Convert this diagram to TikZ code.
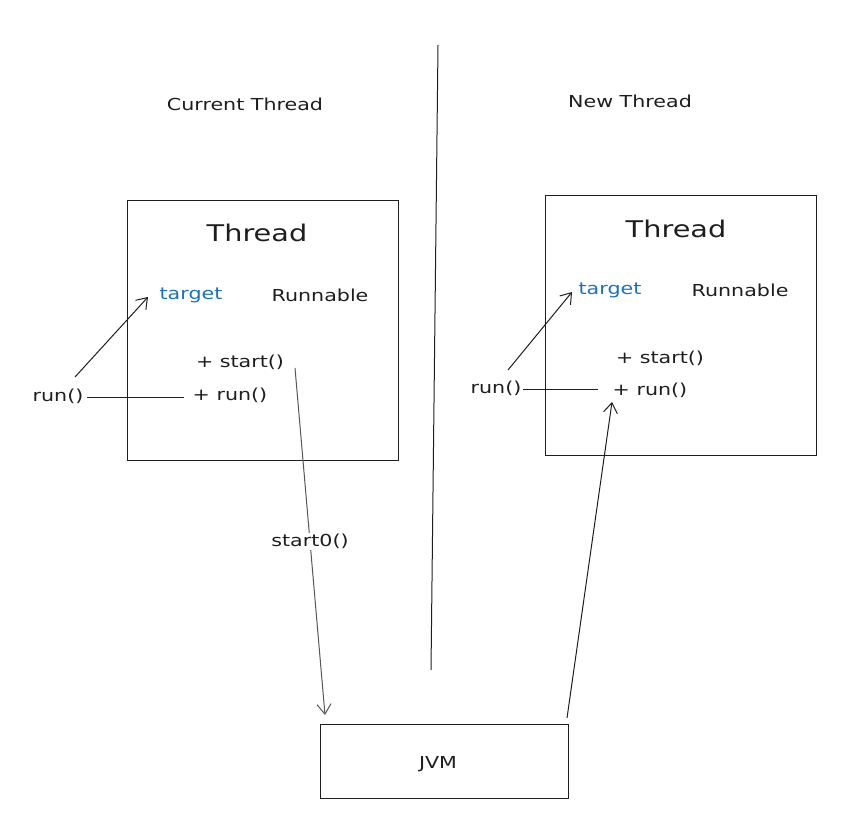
\documentclass[tikz,border=0pt]{standalone}
\usepackage{fontspec}
\setmainfont[FakeStretch=1.25]{DejaVu Sans}
\usetikzlibrary{arrows.meta}
\definecolor{ink}{HTML}{1E1E1E}
\definecolor{blu}{HTML}{1971C2}
\begin{document}
\begin{tikzpicture}[x=1pt,y=-1pt,
  lbl/.style={font=\fontsize{16.5}{18}\selectfont,text=ink,inner sep=1pt},
  ttl/.style={font=\fontsize{23}{26}\selectfont,text=ink,inner sep=1pt},
  frame/.style={draw=ink,line width=0.9pt},
  conn/.style={draw=ink,line width=1pt},
  arr/.style={conn,-{Straight Barb[length=10pt,width=14pt,line width=1pt]}}]
\useasboundingbox (0,0) rectangle (861,831);
% divider
\coordinate (dtop) at (438,45);
\coordinate (dbot) at (431,670);
\draw[conn] (dtop) -- (dbot);
% headers
\node[lbl] (cur) at (245,104) {Current Thread};
\node[lbl] (new) at (630,101) {New Thread};
% left box
\node[frame,minimum width=271pt,minimum height=260pt,inner sep=0] (lbox) at (262.5,330) {};
\node[ttl] (lt) at (257,233) {Thread};
\node[lbl,text=blu] (ltarget) at (191,295) {target};
\node[lbl] (lrun) at (320,295) {Runnable};
\node[lbl] (lstart) at (240,362) {+ start()};
\node[lbl] (lrunm) at (230,395) {+ run()};
\node[lbl] (lext) at (58,396) {run()};
% right box
\node[frame,minimum width=271pt,minimum height=260pt,inner sep=0] (rbox) at (680.5,325) {};
\node[ttl] (rt) at (676,229) {Thread};
\node[lbl,text=blu] (rtarget) at (610,290) {target};
\node[lbl] (rrun) at (740,290) {Runnable};
\node[lbl] (rstart) at (660,358) {+ start()};
\node[lbl] (rrunm) at (650,390) {+ run()};
\node[lbl] (rext) at (496,388) {run()};
% JVM
\node[frame,minimum width=248pt,minimum height=74pt,inner sep=0] (jvm) at (444,761) {};
\node[lbl] (jvmt) at (438,764) {JVM};
% connectors
\coordinate (la1) at (75,377);
\coordinate (la2) at (148,297);
\draw[arr] (la1) -- (la2);
\coordinate (lr1) at (87,397);
\coordinate (lr2) at (184,397);
\draw[conn] (lr1) -- (lr2);
\coordinate (s1) at (295,368);
\coordinate (s2) at (325,715);
\draw[arr,draw=ink!75] (s1) -- node[lbl,fill=white,pos=0.5] (slab) {start0()} (s2);
\coordinate (ra1) at (508,370);
\coordinate (ra2) at (572,292);
\draw[arr] (ra1) -- (ra2);
\coordinate (rr1) at (523,389);
\coordinate (rr2) at (598,389);
\draw[conn] (rr1) -- (rr2);
\coordinate (j1) at (567,718);
\coordinate (j2) at (612,402);
\draw[arr] (j1) -- (j2);
\end{tikzpicture}
\end{document}
